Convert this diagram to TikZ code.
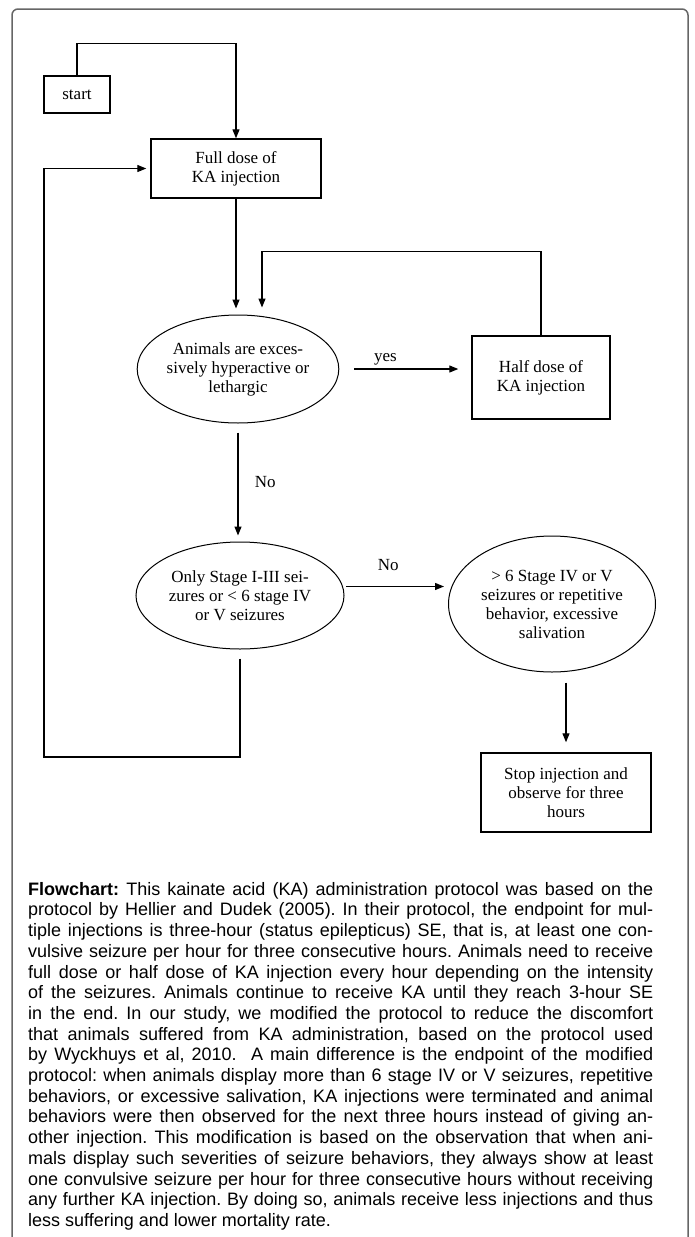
\documentclass[tikz,border=0pt]{standalone}
\usepackage{fontspec}
\setmainfont{Liberation Serif}
\newfontfamily\capfont{Liberation Sans}
\usetikzlibrary{ shapes.geometric, % For the ellipse nodes
                 arrows.meta,
                 calc,             % For shifted corner points
               }
\tikzstyle{edge} = [-{Triangle[length=9pt, width=7pt]}, line width=1.2pt]
\tikzstyle{box} = [rectangle, draw=black, line width=1.4pt, align=center, font=\fontsize{17}{19}\selectfont]
\tikzstyle{test} = [ellipse, draw=black, line width=1pt, inner sep=0pt, align=center, font=\fontsize{17}{19}\selectfont]
\tikzstyle{answer} = [font=\fontsize{17}{19}\selectfont]
\tikzstyle{frame} = [draw=black!60, line width=1.5pt, rounded corners=6pt]

\begin{document}
\begin{tikzpicture}[x=1pt, y=-1pt]
  \useasboundingbox (0,0) rectangle (694,1237);
  \draw [frame] (12,1237) -- (12,9) -- (688,9) -- (688,1237);

  \node (start) [box, minimum width=66pt, minimum height=37pt] at (77, 94.5) {start};
  \node (full) [box, minimum width=170pt, minimum height=59pt] at (236, 168.5) {Full dose of\\KA injection};
  \node (anim) [test, minimum width=197pt, minimum height=108pt] at (238, 369) {Animals are exces-\\sively hyperactive or\\lethargic};
  \node (half) [box, minimum width=138pt, minimum height=83pt] at (541, 377.5) {Half dose of\\KA injection};
  \node (seiz) [test, minimum width=208pt, minimum height=107pt] at (240, 595.5) {Only Stage I-III sei-\\zures or < 6 stage IV\\or V seizures};
  \node (severe) [test, minimum width=207pt, minimum height=136pt] at (552, 604) {> 6 Stage IV or V\\seizures or repetitive\\behavior, excessive\\salivation};
  \node (stop) [box, minimum width=170pt, minimum height=79pt] at (566, 792.5) {Stop injection and\\observe for three\\hours};

  \draw [edge] (start.north) |- ($(full.north)+(0,-95)$) -- (full.north);
  \draw [edge, shorten >=6pt] (full.south) -- (full.south |- anim.north);
  \draw [edge, shorten >=7pt] (half.north) |- ($(anim.north)+(24,-63)$) -- ($(anim.north)+(24,0)$);
  \draw [edge, shorten <=15pt, shorten >=13pt] (anim.east) -- node [answer, above, pos=0.35] {yes} (anim.east -| half.west);
  \draw [edge, shorten <=9pt, shorten >=6pt] (anim.south) -- node [answer, right=13pt] {No} (anim.south |- seiz.north);
  \draw [edge, shorten <=3pt, shorten >=4pt] (seiz.5) -- node [answer, above=12pt, pos=0.43] {No} (seiz.5 -| severe.west);
  \draw [edge, shorten <=10pt, shorten >=10pt] (stop.north |- severe.south) -- (stop.north);
  \draw [edge, shorten <=9pt, shorten >=4pt] (seiz.south) |- (44, 757) |- (full.west);

  \node (note) [anchor=north west, inner sep=0pt, text width=625pt, align=justify, font=\capfont\fontsize{18}{20.7}\selectfont\frenchspacing] at (28, 882) {\textbf{Flowchart:} This kainate acid (KA) administration protocol was based on the\linebreak
protocol by Hellier and Dudek (2005). In their protocol, the endpoint for mul-\linebreak
tiple injections is three-hour (status epilepticus) SE, that is, at least one con-\linebreak
vulsive seizure per hour for three consecutive hours. Animals need to receive\linebreak
full dose or half dose of KA injection every hour depending on the intensity\linebreak
of the seizures. Animals continue to receive KA until they reach 3-hour SE\linebreak
in the end. In our study, we modified the protocol to reduce the discomfort\linebreak
that animals suffered from KA administration, based on the protocol used\linebreak
by Wyckhuys et al, 2010.\ \ A main difference is the endpoint of the modified\linebreak
protocol: when animals display more than 6 stage IV or V seizures, repetitive\linebreak
behaviors, or excessive salivation, KA injections were terminated and animal\linebreak
behaviors were then observed for the next three hours instead of giving an-\linebreak
other injection. This modification is based on the observation that when ani-\linebreak
mals display such severities of seizure behaviors, they always show at least\linebreak
one convulsive seizure per hour for three consecutive hours without receiving\linebreak
any further KA injection. By doing so, animals receive less injections and thus\linebreak
less suffering and lower mortality rate.};
\end{tikzpicture}
\end{document}
